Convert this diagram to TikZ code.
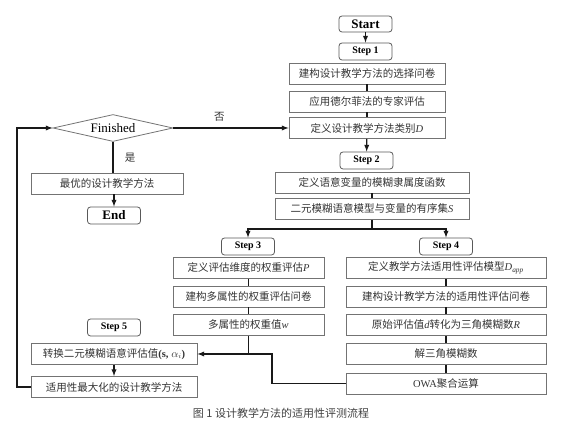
\documentclass[tikz,border=0pt]{standalone}
\usepackage{fontspec}
\setmainfont{Liberation Serif}
\newfontfamily\cjk{Noto Sans CJK SC}
\usetikzlibrary{shapes.geometric}
\newcommand{\lat}[1]{{\rmfamily\itshape #1}}
\tikzset{
  box/.style={draw=black!55, line width=0.8pt, minimum height=21pt, inner sep=0pt,
    text=black!80, font=\cjk\fontsize{10.5}{12}\selectfont},
  stepbox/.style={draw=black!65, line width=0.8pt, rounded corners=3pt, minimum width=53pt,
    minimum height=17pt, inner sep=0pt, font=\rmfamily\bfseries\fontsize{10}{12}\selectfont},
  line/.style={line width=1.3pt, black!90},
}
\begin{document}
\begin{tikzpicture}[x=1pt, y=-1pt, >=latex]
    \useasboundingbox (0,0) rectangle (563,435);
    % Step 1
    \node[stepbox, minimum height=16pt, font=\rmfamily\bfseries\fontsize{13}{14}\selectfont] (start) at (365.5,24) {Start};
    \node[stepbox] (st1) at (365.5,51.5) {Step 1};
    \node[box, minimum width=156pt] (q1) at (367,73.5) {建构设计教学方法的选择问卷};
    \node[box, minimum width=156pt] (q2) at (367,101.5) {应用德尔菲法的专家评估};
    \node[box, minimum width=156pt] (q3) at (367,128) {定义设计教学方法类别\lat{D}};

    % 判断
    \node[draw=black!55, line width=0.8pt, shape=diamond, aspect=4.4, minimum width=120pt, minimum height=27pt,
      inner sep=0pt, font=\rmfamily\fontsize{13}{14}\selectfont] (fin) at (113,128) {Finished};
    \node[box, minimum width=152pt] (best) at (107,183.5) {最优的设计教学方法};
    \node[stepbox, minimum height=17pt, font=\rmfamily\bfseries\fontsize{13}{14}\selectfont] (end) at (114,215.5) {End};

    % Step 2
    \node[stepbox] (st2) at (366.5,160.5) {Step 2};
    \node[box, minimum width=194pt] (s1) at (372,182.5) {定义语意变量的模糊隶属度函数};
    \node[box, minimum width=194pt] (s2) at (372,209) {二元模糊语意模型与变量的有序集\lat{S}};
    \coordinate (br) at (372,229);

    % Step 3
    \node[stepbox] (st3) at (248,246.5) {Step 3};
    \node[box, minimum width=151pt] (p1) at (248.5,268) {定义评估维度的权重评估\lat{P}};
    \node[box, minimum width=151pt] (p2) at (248.5,296.5) {建构多属性的权重评估问卷};
    \node[box, minimum width=151pt] (p3) at (248.5,325) {多属性的权重值\lat{w}};

    % Step 4
    \node[stepbox] (st4) at (446,246.5) {Step 4};
    \node[box, minimum width=200pt] (a1) at (446,268) {定义教学方法适用性评估模型\lat{D\textsubscript{app}}};
    \node[box, minimum width=200pt] (a2) at (446,296.5) {建构设计教学方法的适用性评估问卷};
    \node[box, minimum width=200pt] (a3) at (446,325) {原始评估值\lat{d}转化为三角模糊数\lat{R}};
    \node[box, minimum width=200pt] (a4) at (446,354) {解三角模糊数};
    \node[box, minimum width=200pt] (a5) at (446,383.5) {{\rmfamily OWA}聚合运算};

    % Step 5
    \node[stepbox] (st5) at (114,327.5) {Step 5};
    \node[box, minimum width=166pt] (c1) at (114,354) {转换二元模糊语意评估值{\rmfamily\bfseries(s,~$\alpha_i$)}};
    \node[box, minimum width=166pt] (c2) at (114,387) {适用性最大化的设计教学方法};
    \coordinate (mg) at (272,354);
    \coordinate (lp) at (17,128);

    \draw[line,->] (start) -- (st1);
    \draw[line] (q1) -- (q2); \draw[line] (q2) -- (q3);
    \draw[line,->] (q3) -- (st2);
    \draw[line] (s1) -- (s2); \draw[line] (s2) -- (br);
    \draw[line,->] (br) -| (st3); \draw[line,->] (br) -| (st4);
    \draw[line] (p1) -- (p2); \draw[line] (p2) -- (p3);
    \draw[line] (a1) -- (a2); \draw[line] (a2) -- (a3);
    \draw[line] (a3) -- (a4); \draw[line] (a4) -- (a5);
    \draw[line,->] (p3.south) |- (c1.east);
    \draw[line] (a5.west) -| (mg) -- (p3.south |- mg);
    \draw[line,->] (c1) -- (c2);
    \draw[line,->] (c2.west) -| (lp) -- (fin.west);
    \draw[line,->] (fin.east) -- node[above=3pt, text=black!80, font=\cjk\fontsize{10.5}{12}\selectfont, pos=0.4] {否} (q3.west);
    \draw[line] (fin.south) -- node[right=8pt, text=black!80, font=\cjk\fontsize{10.5}{12}\selectfont, pos=0.5] {是} (fin.south |- best.north);
    \draw[line,->] (best.south -| end) -- (end);

    % 图题
    \node[text=black!75, font=\cjk\fontsize{11}{13}\selectfont] (cap) at (281,413) {图 1 设计教学方法的适用性评测流程};
\end{tikzpicture}
\end{document}
